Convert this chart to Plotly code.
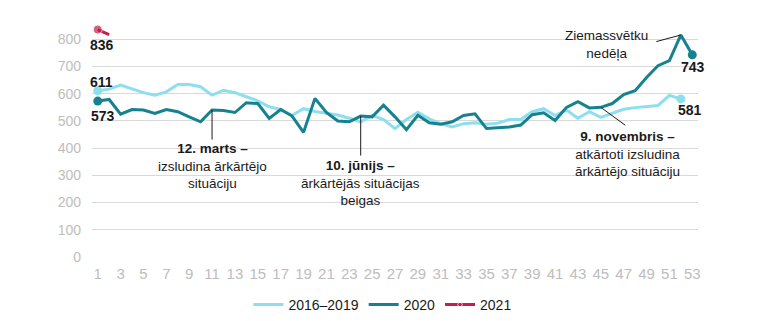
import plotly.graph_objects as go

weeks = list(range(1, 54))

avg_2016_2019 = [611, 617, 632, 617, 604, 595, 607, 634, 634, 626,
                 595, 613, 604, 589, 574, 552, 542, 521, 545, 535,
                 528, 522, 510, 497, 520, 505, 472, 505, 532, 508,
                 490, 478, 490, 493, 488, 492, 505, 505, 534, 545,
                 520, 540, 510, 534, 513, 528, 543, 549, 552, 557,
                 594, 581]

y2020 = [573, 579, 525, 542, 540, 528, 542, 534, 515, 497,
         540, 538, 531, 567, 564, 509, 542, 518, 458, 583,
         531, 500, 497, 518, 515, 558, 515, 468, 521, 493,
         488, 497, 520, 526, 472, 474, 478, 485, 523, 530,
         502, 550, 571, 548, 550, 564, 597, 611, 660, 703,
         722, 816, 743]

y2021 = [836, 817]
weeks_2021 = [1, 2]

xtick_vals = list(range(1, 54, 2))
ytick_vals = list(range(0, 801, 100))

C_LIGHT = "#8ddff0"
C_TEAL = "#16828f"
C_RED = "#c41f4b"
C_TEXT = "#1a1a1a"
C_TICK = "#bdbdbd"
FONT = "Liberation Sans, Arial, sans-serif"
NARROW = "Liberation Sans Narrow, Arial Narrow, Liberation Sans, sans-serif"

fig = go.Figure()

fig.add_trace(go.Scatter(x=weeks[:len(avg_2016_2019)], y=avg_2016_2019, mode="lines",
                         name="2016–2019", line=dict(color=C_LIGHT, width=3)))
fig.add_trace(go.Scatter(x=weeks, y=y2020, mode="lines",
                         name="2020", line=dict(color=C_TEAL, width=3)))
fig.add_trace(go.Scatter(x=weeks_2021, y=y2021, mode="lines+markers",
                         name="2021", line=dict(color=C_RED, width=3),
                         marker=dict(color=C_RED, size=[9, 0])))

# endpoint dots
fig.add_trace(go.Scatter(x=[1, len(avg_2016_2019)], y=[avg_2016_2019[0], avg_2016_2019[-1]],
                         mode="markers", marker=dict(color=C_LIGHT, size=9),
                         showlegend=False, hoverinfo="skip"))
fig.add_trace(go.Scatter(x=[1, weeks[-1]], y=[y2020[0], y2020[-1]],
                         mode="markers", marker=dict(color=C_TEAL, size=9),
                         showlegend=False, hoverinfo="skip"))

ann = []

def num_label(x, y, xs, ys):
    ann.append(dict(x=x, y=y, xref="x", yref="y", text=f"<b>{y}</b>", showarrow=False,
                    xshift=xs, yshift=ys, font=dict(size=14, color=C_TEXT, family=FONT)))

num_label(1, y2021[0], 4, -15)
num_label(1, avg_2016_2019[0], 4, 9)
num_label(1, y2020[0], 5, -15)
num_label(53, y2020[-1], 1, -12)
num_label(len(avg_2016_2019), avg_2016_2019[-1], 9, -11)

def pointer(x, y, ax, ay):
    ann.append(dict(x=x, y=y, xref="x", yref="y", text="", showarrow=True,
                    arrowhead=0, arrowwidth=1, arrowcolor=C_TEXT, ax=ax, ay=ay,
                    standoff=0, startstandoff=0))

pointer(11, y2020[10], 0, 31)
pointer(24, y2020[23], 0, 41)
pointer(45, y2020[44], 26, 19)
pointer(52, y2020[51], -26, 7)

def block(x, ytop, text):
    ann.append(dict(x=x, y=ytop, xref="x", yref="y", text=text, showarrow=False,
                    xanchor="center", yanchor="top", align="center",
                    font=dict(size=13.5, color=C_TEXT, family=FONT)))

block(11, 432, "<b>12. marts –</b><br>izsludina ārkārtējo<br>situāciju")
block(24, 370, "<b>10. jūnijs –</b><br>ārkārtējās situācijas<br>beigas")
block(47.3, 478, "<b>9. novembris –</b><br>atkārtoti izsludina<br>ārkārtējo situāciju")
block(45.5, 848, "Ziemassvētku<br>nedēļa")

fig.update_layout(
    width=768, height=321,
    margin=dict(l=92, r=70, t=23, b=64, autoexpand=False),
    paper_bgcolor="white", plot_bgcolor="white",
    font=dict(family=FONT, size=13, color=C_TEXT),
    showlegend=True,
    legend=dict(orientation="h", x=0.48, xanchor="center", y=-0.205, yanchor="middle",
                font=dict(size=14, color=C_TEXT), itemwidth=30, bgcolor="rgba(0,0,0,0)"),
    annotations=ann,
    xaxis=dict(range=[0.5, 53.5], tickvals=xtick_vals, showgrid=False, zeroline=False,
               showline=False, ticks="", tickfont=dict(size=15, color=C_TICK, family=NARROW),
               ticklabelstandoff=6, fixedrange=True),
    yaxis=dict(range=[0, 860], tickvals=ytick_vals, showgrid=True,
               gridcolor="#d9d9d9", gridwidth=1, zeroline=False, showline=False, ticks="",
               tickfont=dict(size=14, color=C_TICK), ticklabelstandoff=10,
               fixedrange=True),
)

fig.write_html("out.html")
